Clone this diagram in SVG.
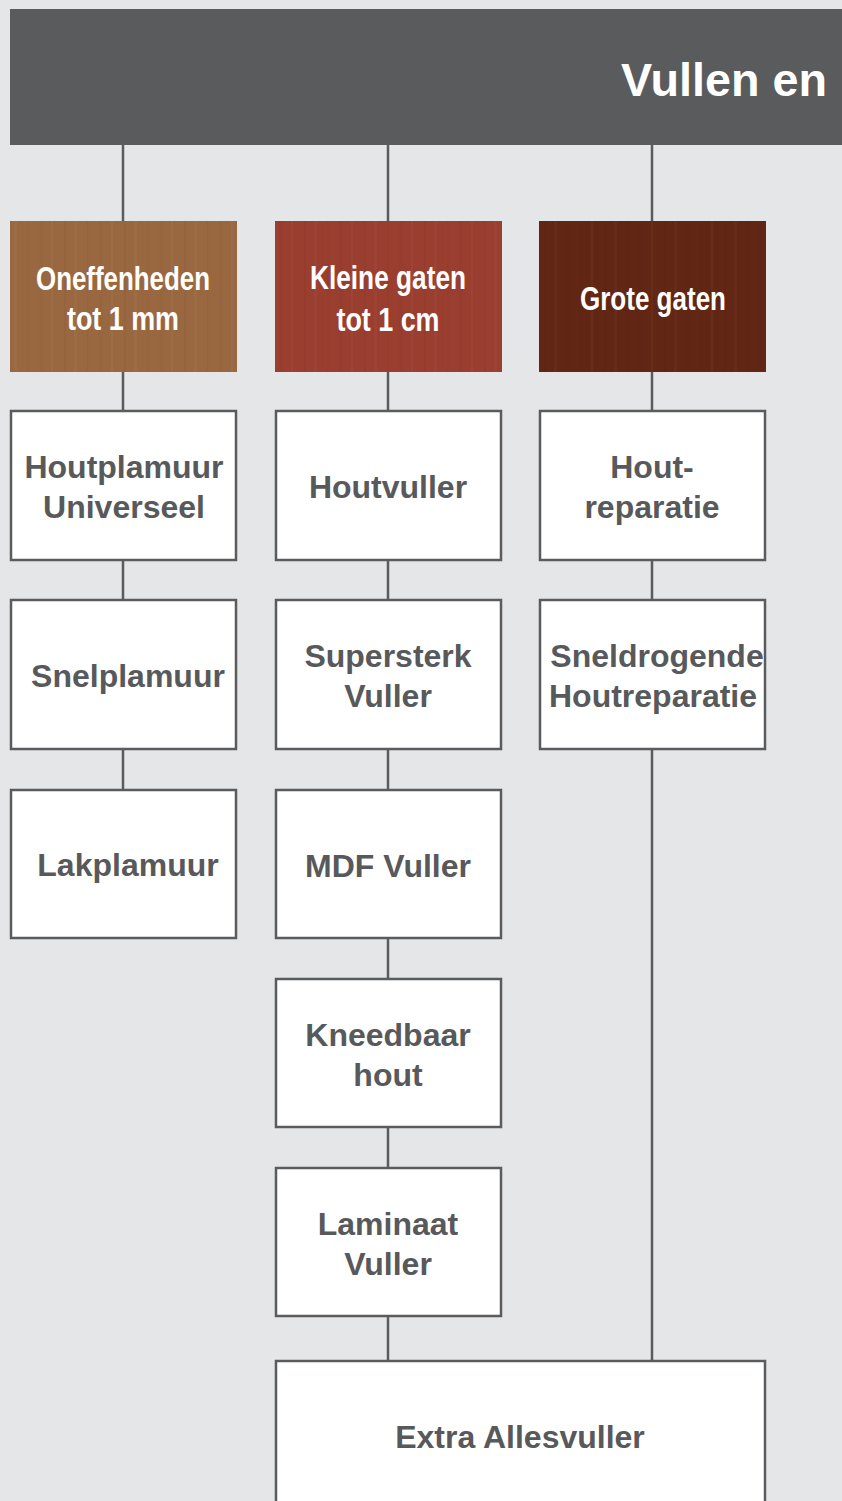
<svg xmlns="http://www.w3.org/2000/svg" width="842" height="1501" viewBox="0 0 842 1501">
<defs>
<style>
.box{fill:#ffffff;stroke:#5a5b5d;stroke-width:2.5}
.lbl{font-family:"Liberation Sans",Arial,sans-serif;font-weight:bold;font-size:32px;fill:#58595b;text-anchor:middle}
.cat{font-family:"Liberation Sans",Arial,sans-serif;font-weight:bold;font-size:33px;fill:#ffffff;text-anchor:middle}
.conn line{stroke:#5a5b5d;stroke-width:2.5}
</style>
<pattern id="grain" width="60" height="151" patternUnits="userSpaceOnUse">
<rect x="4" y="0" width="2" height="151" fill="#000" opacity="0.035"/>
<rect x="14" y="0" width="3" height="151" fill="#fff" opacity="0.025"/>
<rect x="27" y="0" width="1.5" height="151" fill="#000" opacity="0.04"/>
<rect x="39" y="0" width="4" height="151" fill="#000" opacity="0.02"/>
<rect x="51" y="0" width="2" height="151" fill="#fff" opacity="0.03"/>
</pattern>
</defs>
<rect x="0" y="0" width="842" height="1501" fill="#e5e6e8"/>
<g id="header">
<rect x="10" y="9" width="832" height="136" fill="#5a5b5d"/>
<text x="827" y="96" font-family="'Liberation Sans',Arial,sans-serif" font-weight="bold" font-size="46" fill="#ffffff" text-anchor="end" textLength="206" lengthAdjust="spacingAndGlyphs">Vullen en</text>
</g>
<g class="conn" id="connectors">
<line x1="123" y1="145" x2="123" y2="221"/>
<line x1="388" y1="145" x2="388" y2="221"/>
<line x1="652" y1="145" x2="652" y2="221"/>
<line x1="123" y1="372" x2="123" y2="411"/>
<line x1="123" y1="560" x2="123" y2="600"/>
<line x1="123" y1="749" x2="123" y2="790"/>
<line x1="388" y1="372" x2="388" y2="411"/>
<line x1="388" y1="560" x2="388" y2="600"/>
<line x1="388" y1="749" x2="388" y2="790"/>
<line x1="388" y1="938" x2="388" y2="979"/>
<line x1="388" y1="1127" x2="388" y2="1168"/>
<line x1="388" y1="1316" x2="388" y2="1361"/>
<line x1="652" y1="372" x2="652" y2="411"/>
<line x1="652" y1="560" x2="652" y2="600"/>
<line x1="652" y1="749" x2="652" y2="1361"/>
</g>
<g id="cat1">
<rect x="10" y="221" width="227" height="151" fill="#9a6840"/>
<rect x="10" y="221" width="227" height="151" fill="url(#grain)"/>
<text class="cat" x="123" y="290" textLength="174" lengthAdjust="spacingAndGlyphs">Oneffenheden</text>
<text class="cat" x="123" y="330" textLength="112" lengthAdjust="spacingAndGlyphs">tot 1 mm</text>
</g>
<g id="cat2">
<rect x="275" y="221" width="227" height="151" fill="#9a3e30"/>
<rect x="275" y="221" width="227" height="151" fill="url(#grain)"/>
<text class="cat" x="388" y="289" textLength="156" lengthAdjust="spacingAndGlyphs">Kleine gaten</text>
<text class="cat" x="388" y="331" textLength="103" lengthAdjust="spacingAndGlyphs">tot 1 cm</text>
</g>
<g id="cat3">
<rect x="539" y="221" width="227" height="151" fill="#622614"/>
<rect x="539" y="221" width="227" height="151" fill="url(#grain)"/>
<text class="cat" x="653" y="310" textLength="146" lengthAdjust="spacingAndGlyphs">Grote gaten</text>
</g>
<g id="houtplamuur">
<rect class="box" x="11" y="411" width="225" height="149"/>
<text class="lbl" x="124" y="478">Houtplamuur</text>
<text class="lbl" x="124" y="518">Universeel</text>
</g>
<g id="snelplamuur">
<rect class="box" x="11" y="600" width="225" height="149"/>
<text class="lbl" x="128" y="687">Snelplamuur</text>
</g>
<g id="lakplamuur">
<rect class="box" x="11" y="790" width="225" height="148"/>
<text class="lbl" x="128" y="876">Lakplamuur</text>
</g>
<g id="houtvuller">
<rect class="box" x="276" y="411" width="225" height="149"/>
<text class="lbl" x="388" y="498">Houtvuller</text>
</g>
<g id="supersterk">
<rect class="box" x="276" y="600" width="225" height="149"/>
<text class="lbl" x="388" y="667">Supersterk</text>
<text class="lbl" x="388" y="707">Vuller</text>
</g>
<g id="mdf">
<rect class="box" x="276" y="790" width="225" height="148"/>
<text class="lbl" x="388" y="877">MDF Vuller</text>
</g>
<g id="kneedbaar">
<rect class="box" x="276" y="979" width="225" height="148"/>
<text class="lbl" x="388" y="1046">Kneedbaar</text>
<text class="lbl" x="388" y="1086">hout</text>
</g>
<g id="laminaat">
<rect class="box" x="276" y="1168" width="225" height="148"/>
<text class="lbl" x="388" y="1235">Laminaat</text>
<text class="lbl" x="388" y="1275">Vuller</text>
</g>
<g id="houtreparatie">
<rect class="box" x="540" y="411" width="225" height="149"/>
<text class="lbl" x="652" y="478">Hout-</text>
<text class="lbl" x="652" y="518">reparatie</text>
</g>
<g id="sneldrogende">
<rect class="box" x="540" y="600" width="225" height="149"/>
<text class="lbl" x="657" y="667">Sneldrogende</text>
<text class="lbl" x="653" y="707">Houtreparatie</text>
</g>
<g id="allesvuller">
<rect class="box" x="276" y="1361" width="489" height="150"/>
<text class="lbl" x="520" y="1448">Extra Allesvuller</text>
</g>
</svg>
